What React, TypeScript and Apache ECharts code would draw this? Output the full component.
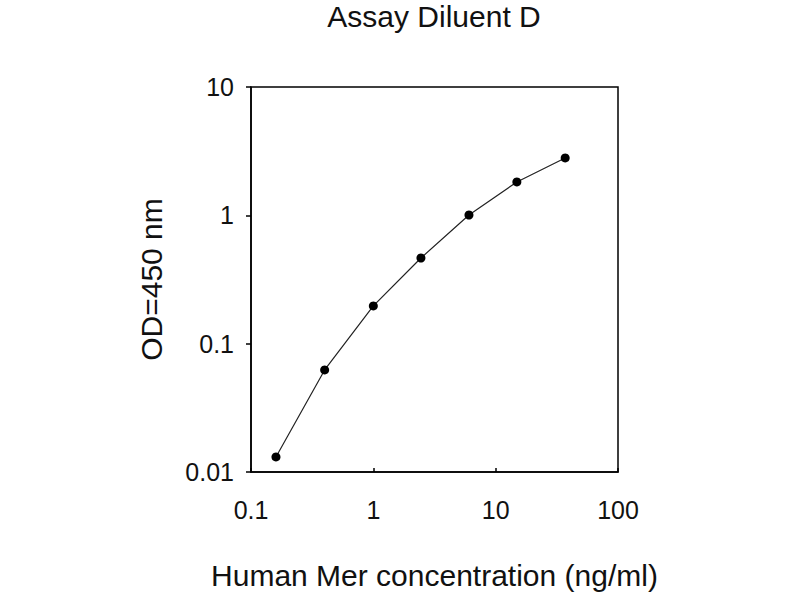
import React, { useEffect, useRef } from "react";
import * as echarts from "echarts";

const concentrations = [0.16, 0.4, 1, 2.45, 6.05, 14.9, 37];
const odValues = [0.0131, 0.0624, 0.197, 0.465, 1.006, 1.82, 2.8];
const titleText = "Assay Diluent D";
const xName = "Human Mer concentration (ng/ml)";
const yName = "OD=450 nm";

const FONT = "'Liberation Sans', Arial, Helvetica, sans-serif";

function fmt(v: number) {
  return String(parseFloat(Number(v).toPrecision(3)));
}

export default function App() {
  const ref = useRef<HTMLDivElement>(null);
  useEffect(() => {
    if (!ref.current) return;
    const chart = echarts.init(ref.current, undefined, { renderer: "svg" });
    chart.setOption({
      animation: false,
      backgroundColor: "#ffffff",
      title: {
        text: titleText,
        left: 434,
        top: 0,
        padding: 0,
        textAlign: "center",
        textStyle: { fontFamily: FONT, fontSize: 30, lineHeight: 32, fontWeight: "normal", color: "#111" },
      },
      grid: {
        left: 251,
        right: 182,
        top: 87,
        bottom: 128,
        show: true,
        borderColor: "#000",
        borderWidth: 1.5,
        backgroundColor: "transparent",
      },
      xAxis: {
        type: "log",
        logBase: 10,
        min: 0.1,
        max: 100,
        name: xName,
        nameLocation: "middle",
        nameGap: 88,
        nameTextStyle: { fontFamily: FONT, fontSize: 30, color: "#111" },
        axisLine: { show: true, lineStyle: { color: "#000", width: 1.5 } },
        axisTick: { show: true, inside: true, length: 4, lineStyle: { color: "#000", width: 1.5 } },
        minorTick: { show: false },
        splitLine: { show: false },
        axisLabel: {
          margin: 25,
          fontFamily: FONT,
          fontSize: 25,
          color: "#111",
          formatter: (v: number) => fmt(v),
        },
      },
      yAxis: {
        type: "log",
        logBase: 10,
        min: 0.01,
        max: 10,
        name: yName,
        nameLocation: "middle",
        nameGap: 85,
        nameTextStyle: { fontFamily: FONT, fontSize: 30, color: "#111" },
        axisLine: { show: true, lineStyle: { color: "#000", width: 1.5 } },
        axisTick: { show: true, inside: false, length: 5, lineStyle: { color: "#000", width: 1.5 } },
        minorTick: { show: false },
        splitLine: { show: false },
        axisLabel: {
          margin: 17,
          fontFamily: FONT,
          fontSize: 25,
          color: "#111",
          formatter: (v: number) => fmt(v),
        },
      },
      series: [
        {
          type: "line",
          data: concentrations.map((c, i) => [c, odValues[i]]),
          symbol: "circle",
          symbolSize: 9,
          showSymbol: true,
          lineStyle: { color: "#222", width: 1.2 },
          itemStyle: { color: "#000" },
        },
      ],
    });
    return () => chart.dispose();
  }, []);
  return (
    <div
      ref={ref}
      style={{ position: "fixed", left: 0, top: 0, width: 800, height: 600 }}
    />
  );
}
